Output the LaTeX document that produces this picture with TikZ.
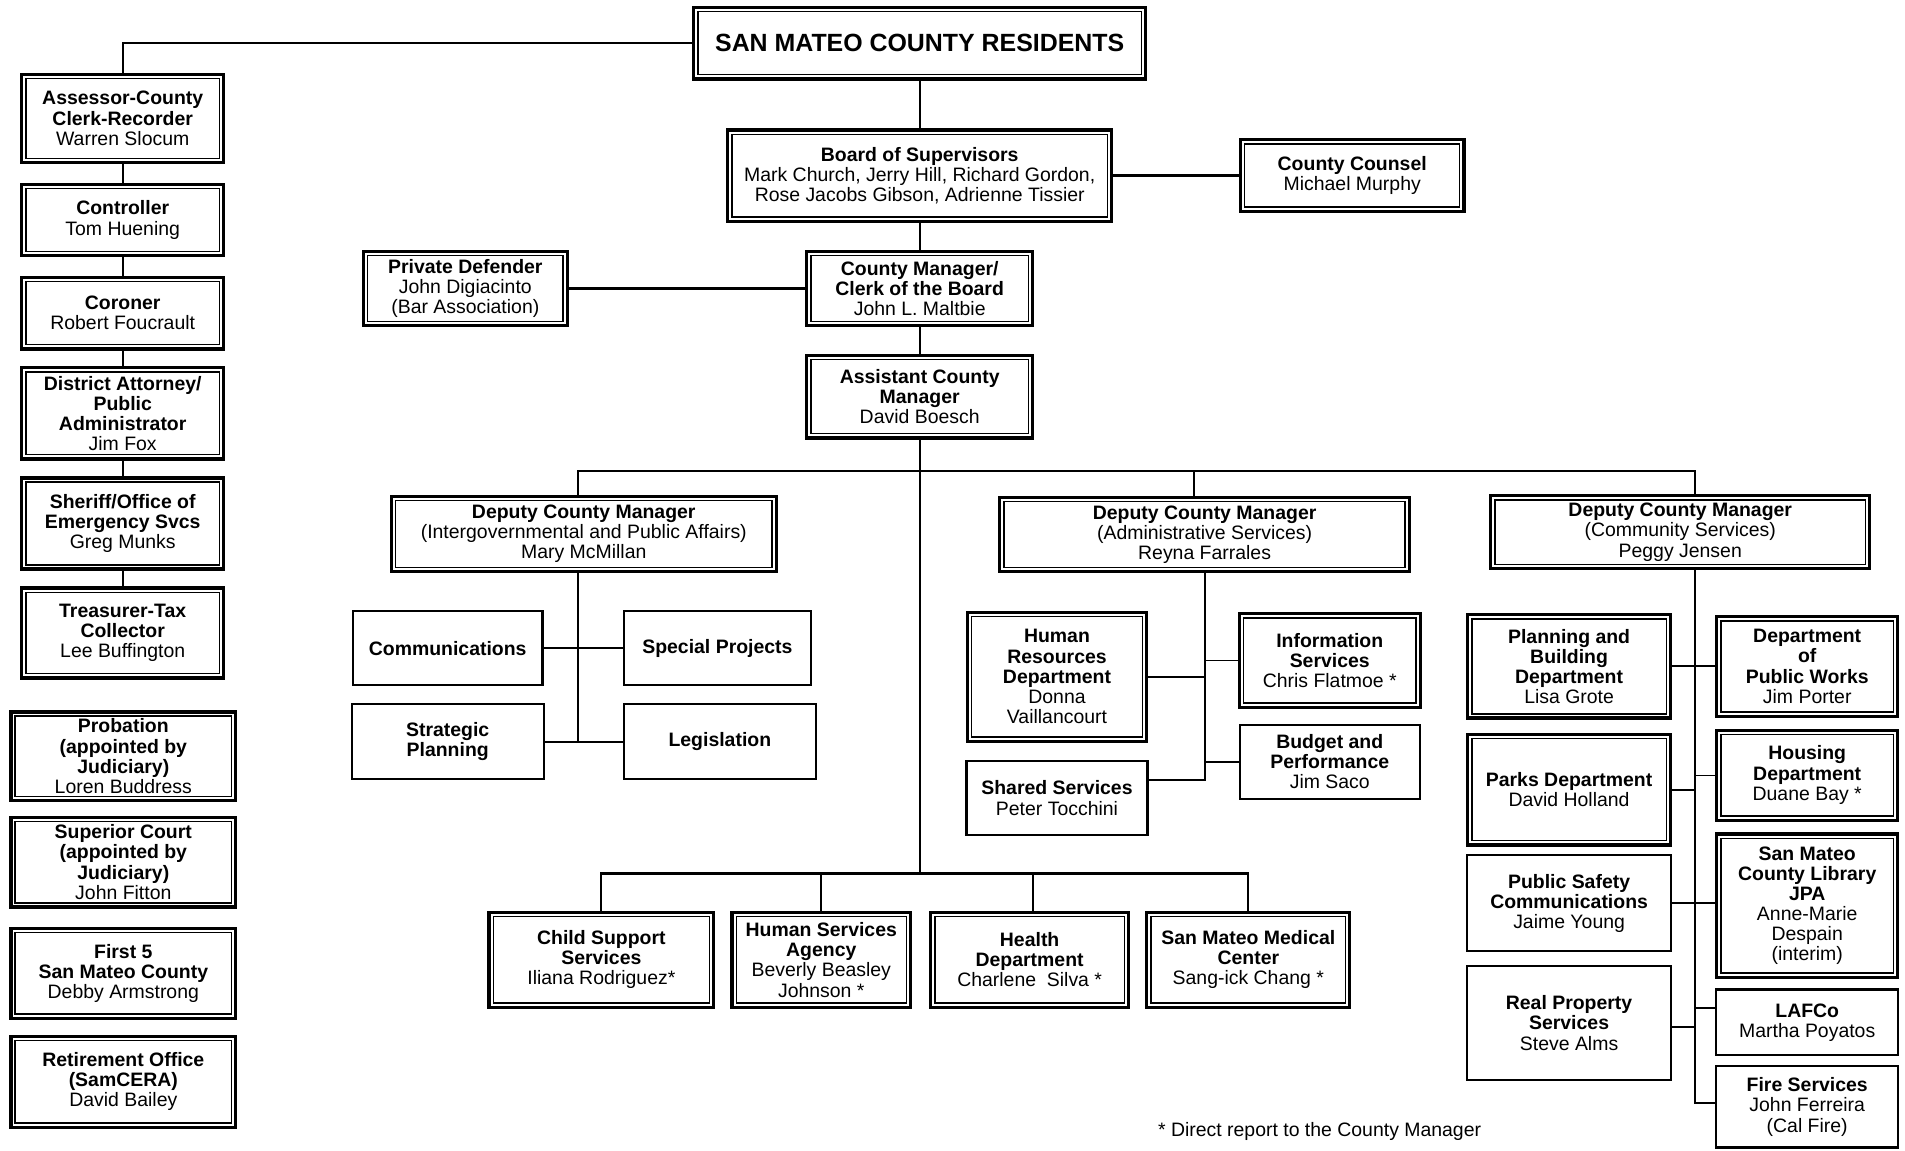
\documentclass[tikz,border=0pt]{standalone}
\usepackage{fontspec}
\setmainfont{Liberation Sans}
\usepackage{tikz}
\usetikzlibrary{positioning}

\begin{document}
\begin{tikzpicture}[x=1pt, y=-1pt,
        every node/.style={font=\fontsize{16}{16.6}\selectfont, align=center, inner sep=1pt},
        unit/.style={rectangle, draw, line width=1.8pt},
        office/.style={rectangle, draw, line width=2.6pt,
            path picture={\draw[line width=1.2pt] ([shift={(3.5pt,3.5pt)}]path picture bounding box.south west) rectangle ([shift={(-3.5pt,-3.5pt)}]path picture bounding box.north east);}},
        elected/.style={office, minimum width=166pt},
        judicial/.style={office, minimum width=185pt},
        link/.style={line width=1.8pt},
        branch/.style={line width=1.5pt}
    ]
    \useasboundingbox (0,0) rectangle (1568,947);

    % Residents and top of the county
    \node[office, minimum width=372pt, minimum height=59pt, font=\bfseries\fontsize{20.5}{22}\selectfont] (res) at (757,35.5) {SAN MATEO COUNTY RESIDENTS};
    \node[office, minimum width=316pt, minimum height=75pt] (board) at (757,144.5) {\textbf{Board of Supervisors}\\Mark Church, Jerry Hill, Richard Gordon,\\Rose Jacobs Gibson, Adrienne Tissier};
    \node[office, minimum width=184pt, minimum height=59pt] (counsel) at (1113,144.5) {\textbf{County Counsel}\\Michael Murphy};
    \node[office, minimum width=186pt, minimum height=61pt] (manager) at (757,237.5) {\textbf{County Manager/}\\\textbf{Clerk of the Board}\\John L. Maltbie};
    \node[office, minimum width=168pt, minimum height=61pt] (defender) at (383,237.5) {\textbf{Private Defender}\\John Digiacinto\\(Bar Association)};
    \node[office, minimum width=186pt, minimum height=68pt] (assistant) at (757,326.5) {\textbf{Assistant County}\\\textbf{Manager}\\David Boesch};

    % Elected officers
    \node[elected, minimum height=73pt] (assessor) at (101,97.5) {\textbf{Assessor-County}\\\textbf{Clerk-Recorder}\\Warren Slocum};
    \node[elected, minimum height=59pt, below=15pt of assessor] (controller) {\textbf{Controller}\\Tom Huening};
    \node[elected, minimum height=59pt, below=15pt of controller] (coroner) {\textbf{Coroner}\\Robert Foucrault};
    \node[elected, minimum height=75pt, below=13pt of coroner] (da) {\textbf{District Attorney/}\\\textbf{Public}\\\textbf{Administrator}\\Jim Fox};
    \node[elected, minimum height=75pt, below=13pt of da] (sheriff) {\textbf{Sheriff/Office of}\\\textbf{Emergency Svcs}\\Greg Munks};
    \node[elected, minimum height=74pt, below=13pt of sheriff] (treasurer) {\textbf{Treasurer-Tax}\\\textbf{Collector}\\Lee Buffington};

    % Appointed elsewhere
    \node[judicial, minimum height=73pt] (probation) at (101.5,622.5) {\textbf{Probation}\\\textbf{(appointed by}\\\textbf{Judiciary)}\\Loren Buddress};
    \node[judicial, minimum height=74pt, below=11pt of probation] (court) {\textbf{Superior Court}\\\textbf{(appointed by}\\\textbf{Judiciary)}\\John Fitton};
    \node[judicial, minimum height=74pt, below=15pt of court] (first5) {\textbf{First 5}\\\textbf{San Mateo County}\\Debby Armstrong};
    \node[judicial, minimum height=75pt, below=12pt of first5] (samcera) {\textbf{Retirement Office}\\\textbf{(SamCERA)}\\David Bailey};

    % Deputy county managers
    \node[office, minimum width=317pt, minimum height=62pt] (dep1) at (480.5,439.5) {\textbf{Deputy County Manager}\\(Intergovernmental and Public Affairs)\\Mary McMillan};
    \node[office, minimum width=337pt, minimum height=61pt] (dep2) at (991.5,440) {\textbf{Deputy County Manager}\\(Administrative Services)\\Reyna Farrales};
    \node[office, minimum width=312pt, minimum height=60pt] (dep3) at (1383,438) {\textbf{Deputy County Manager}\\(Community Services)\\Peggy Jensen};

    % Intergovernmental and public affairs
    \node[unit, minimum width=156pt, minimum height=61pt] (comm) at (368.5,533.5) {\textbf{Communications}};
    \node[unit, minimum width=154pt, minimum height=61pt] (special) at (590.5,533.5) {\textbf{Special Projects}};
    \node[unit, minimum width=158pt, minimum height=62pt] (strategic) at (368.5,610.5) {\textbf{Strategic}\\\textbf{Planning}};
    \node[unit, minimum width=158pt, minimum height=62pt] (legis) at (592.5,610.5) {\textbf{Legislation}};

    % Administrative services
    \node[office, minimum width=148pt, minimum height=106pt] (hr) at (870,557) {\textbf{Human}\\\textbf{Resources}\\\textbf{Department}\\Donna\\Vaillancourt};
    \node[office, minimum width=149pt, minimum height=77pt] (info) at (1094.5,543.7) {\textbf{Information}\\\textbf{Services}\\Chris Flatmoe *};
    \node[unit, minimum width=149pt, minimum height=61pt] (shared) at (870,656.8) {\textbf{Shared Services}\\Peter Tocchini};
    \node[unit, minimum width=148pt, minimum height=61pt] (budget) at (1094.5,627) {\textbf{Budget and}\\\textbf{Performance}\\Jim Saco};

    % Community services
    \node[office, minimum width=167pt, minimum height=85pt] (planning) at (1291.5,548.5) {\textbf{Planning and}\\\textbf{Building}\\\textbf{Department}\\Lisa Grote};
    \node[office, minimum width=167pt, minimum height=91pt] (parks) at (1291.5,650) {\textbf{Parks Department}\\David Holland};
    \node[unit, minimum width=168pt, minimum height=79pt] (psc) at (1291.5,743.5) {\textbf{Public Safety}\\\textbf{Communications}\\Jaime Young};
    \node[unit, minimum width=168pt, minimum height=94pt] (realprop) at (1291.5,842) {\textbf{Real Property}\\\textbf{Services}\\Steve Alms};
    \node[office, minimum width=149pt, minimum height=82pt] (dpw) at (1487.5,548.5) {\textbf{Department}\\\textbf{of}\\\textbf{Public Works}\\Jim Porter};
    \node[office, minimum width=149pt, minimum height=74pt] (housing) at (1487.5,638) {\textbf{Housing}\\\textbf{Department}\\Duane Bay *};
    \node[office, minimum width=149pt, minimum height=118pt] (library) at (1487.5,745.5) {\textbf{San Mateo}\\\textbf{County Library}\\\textbf{JPA}\\Anne-Marie\\Despain\\(interim)};
    \node[unit, minimum width=150pt, minimum height=54pt] (lafco) at (1487.5,841.5) {\textbf{LAFCo}\\Martha Poyatos};
    \node[unit, minimum width=150pt, minimum height=67pt] (fire) at (1487.5,911) {\textbf{Fire Services}\\John Ferreira\\(Cal Fire)};

    % Direct reports
    \node[office, minimum width=185pt, minimum height=78pt] (child) at (495,790) {\textbf{Child Support}\\\textbf{Services}\\Iliana Rodriguez*};
    \node[office, minimum width=147pt, minimum height=78pt] (hsa) at (676,790) {\textbf{Human Services}\\\textbf{Agency}\\Beverly Beasley\\Johnson *};
    \node[office, minimum width=163pt, minimum height=78pt] (health) at (847.5,790) {\textbf{Health}\\\textbf{Department}\\Charlene\ \ Silva *};
    \node[office, minimum width=167pt, minimum height=78pt] (medical) at (1027.5,790) {\textbf{San Mateo Medical}\\\textbf{Center}\\Sang-ick Chang *};

    \node[anchor=west] (note) at (952,931) {* Direct report to the County Manager};

    % Lines of authority
    \coordinate (bus) at (757,388);
    \coordinate (lowbus) at (757,719);
    \coordinate (trunk1) at ([xshift=-4.5pt]dep1.south);
    \coordinate (trunk3) at ([xshift=12pt]dep3.south);

    \draw[link] (res.west) -| (assessor.north);
    \draw[link] (assessor) -- (controller) -- (coroner) -- (da) -- (sheriff) -- (treasurer);
    \draw[link] (res) -- (board);
    \draw[link] (board) -- (counsel);
    \draw[link] (board) -- (manager);
    \draw[link] (defender) -- (manager);
    \draw[link] (manager) -- (assistant);
    \draw[link] (assistant) -- (lowbus);

    \draw[link] ([xshift=-5pt]dep1.north) |- (bus) -| ([xshift=12pt]dep3.north);
    \draw[link] ([xshift=-9pt]dep2.north) -- ([xshift=-9pt]dep2.north |- bus);

    \draw[link] (child.north) |- (lowbus) -| (medical.north);
    \draw[link] (hsa.north) -- (hsa.north |- lowbus);
    \draw[link] ([xshift=3pt]health.north) -- ([xshift=3pt]health.north |- lowbus);

    \draw[branch] (trunk1) |- (strategic.east);
    \draw[branch] (comm) -- (special);
    \draw[branch] (strategic) -- (legis);

    \draw[branch] (dep2.south) |- ([yshift=15pt]shared.east);
    \draw[branch] (hr.east) -- (hr.east -| dep2.south);
    \draw[branch] (info.west) -- (info.west -| dep2.south);
    \draw[branch] (budget.west) -- (budget.west -| dep2.south);

    \draw[branch] (trunk3) |- ([yshift=3pt]fire.west);
    \draw[branch] (planning) -- (dpw);
    \draw[branch] (parks.east) -- (parks.east -| trunk3);
    \draw[branch, line width=0.8pt] (housing.west) -- (housing.west -| trunk3);
    \draw[branch] (psc.east) -- (psc.east -| library.west);
    \draw[branch] ([yshift=-3pt]realprop.east) -- ([yshift=-3pt]realprop.east -| trunk3);
    \draw[branch] ([yshift=12pt]lafco.west) -- ([yshift=12pt]lafco.west -| trunk3);

\end{tikzpicture}
\end{document}
